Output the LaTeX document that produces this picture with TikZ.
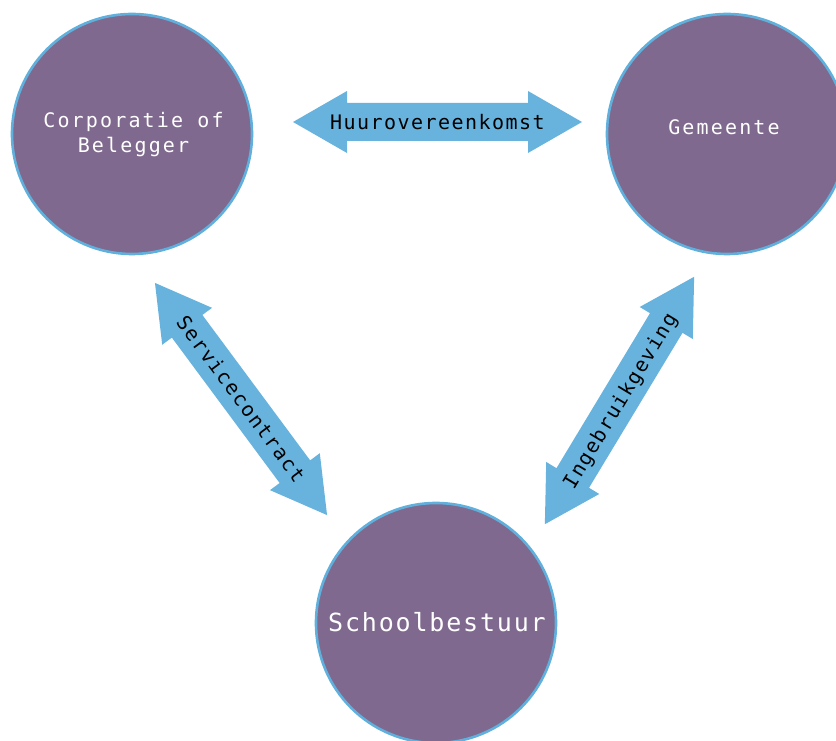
\documentclass[tikz,border=0pt]{standalone}
\usepackage{fontspec}
\newfontfamily\monoA[LetterSpace=7.3]{DejaVu Sans Mono}
\newfontfamily\monoB[LetterSpace=10.8]{DejaVu Sans Mono}
\definecolor{circfill}{RGB}{128,105,142}
\definecolor{circline}{RGB}{96,176,222}
\definecolor{arrowfill}{RGB}{104,179,222}
\tikzset{
  entity/.style={circle, fill=circfill, draw=circline, line width=2.6pt,
    minimum size=240pt, inner sep=0pt},
  entitytext/.style={anchor=base, text=white, inner sep=0pt,
    font=\fontsize{20}{25}\monoB},
  arrowtext/.style={text=black, inner sep=0pt, text height=14.5pt, text depth=0pt,
    font=\fontsize{20}{24}\monoA},
  pics/dblarrow/.style={code={
    \fill[arrowfill] (-144.5,0) -- (-90.5,31) -- (-90.5,19) -- (90.5,19) -- (90.5,31)
      -- (144.5,0) -- (90.5,-31) -- (90.5,-19) -- (-90.5,-19) -- (-90.5,-31) -- cycle;
  }}
}
\begin{document}
\begin{tikzpicture}[x=1pt,y=1pt]
\useasboundingbox (0,0) rectangle (836,741);
% circles
\node[entity] (corp) at (132,607) {};
\node[entity] (gem) at (727,607) {};
\node[entity] (school) at (436,118) {};
\node[entitytext] (corptxt1) at (133.5,613) {Corporatie of};
\node[entitytext] (corptxt2) at (133.5,588) {Belegger};
\node[entitytext] (gemtxt) at (724,606) {Gemeente};
\node[entitytext, font=\fontsize{25}{30}\monoA] (schooltxt) at (437,109) {Schoolbestuur};
% arrows
\coordinate (huurc) at (437.5,619);
\coordinate (servc) at (241,342);
\coordinate (ingc) at (619.5,340.5);
\pic at (huurc) {dblarrow};
\pic[rotate=-53.45] at (servc) {dblarrow};
\pic[rotate=58.9] at (ingc) {dblarrow};
\node[arrowtext] (huur) at (huurc) {Huurovereenkomst};
\node[arrowtext, rotate=-53.45] (serv) at (servc) {Servicecontract};
\node[arrowtext, rotate=58.9] (ing) at (ingc) {Ingebruikgeving};
\end{tikzpicture}
\end{document}
